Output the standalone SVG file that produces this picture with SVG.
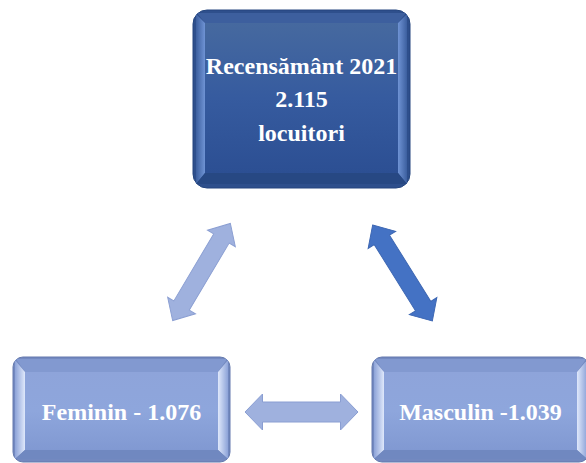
<svg xmlns="http://www.w3.org/2000/svg" width="586" height="463" viewBox="0 0 586 463">
<defs>
<style>
.lbl{font-family:"Liberation Serif","Times New Roman",serif;font-weight:bold;fill:#ffffff;font-size:24px;text-anchor:middle}
.ta{fill:#9fb1de;stroke:#8a9ed2;stroke-width:1}
.tb{fill:#4472c4;stroke:#3c66b2;stroke-width:1}
</style>
<linearGradient id="gTop" x1="0" y1="0" x2="0" y2="1">
<stop offset="0" stop-color="#46699f"/><stop offset="0.5" stop-color="#365b9f"/><stop offset="1" stop-color="#2c4f93"/>
</linearGradient>
<linearGradient id="gTopL" x1="0" y1="0" x2="1" y2="0">
<stop offset="0" stop-color="#3c5f9f"/><stop offset="1" stop-color="#6f93d4"/>
</linearGradient>
<linearGradient id="gTopR" x1="1" y1="0" x2="0" y2="0">
<stop offset="0" stop-color="#3c5f9f"/><stop offset="1" stop-color="#6f93d4"/>
</linearGradient>
<linearGradient id="gLow" x1="0" y1="0" x2="0" y2="1">
<stop offset="0" stop-color="#8ea4da"/><stop offset="0.5" stop-color="#8ea6dc"/><stop offset="1" stop-color="#8199d2"/>
</linearGradient>
<linearGradient id="gLowL" x1="0" y1="0" x2="1" y2="0">
<stop offset="0" stop-color="#8da3d8"/><stop offset="1" stop-color="#dfe8fb"/>
</linearGradient>
<linearGradient id="gLowR" x1="1" y1="0" x2="0" y2="0">
<stop offset="0" stop-color="#8da3d8"/><stop offset="1" stop-color="#dfe8fb"/>
</linearGradient>
<path id="arr" d="M -56.5 0 L -39 -18 L -39 -10 L 39 -10 L 39 -18 L 56.5 0 L 39 18 L 39 10 L -39 10 L -39 18 Z"/>
</defs>
<rect width="586" height="463" fill="#ffffff"/>

<g id="connectors">
<use href="#arr" class="ta" transform="translate(201.5 272) rotate(-59.3) scale(1 0.9)"/>
<use href="#arr" class="tb" transform="translate(402.5 273) rotate(58.1) scale(1 0.9)"/>
<use href="#arr" class="ta" transform="translate(301.5 412)"/>
</g>

<g id="node-total">
<rect x="193" y="10" width="217" height="178" rx="14" fill="#2e4f8c" stroke="#24457e" stroke-width="1"/>
<polygon points="197,13 406,13 398,23 205,23" fill="#3d5f9e"/>
<polygon points="196,14 205,23 205,173 196,184" fill="url(#gTopL)"/>
<polygon points="407,14 398,23 398,173 407,184" fill="url(#gTopR)"/>
<polygon points="196,184 205,173 398,173 407,184" fill="#274883"/>
<rect x="205" y="23" width="193" height="150" fill="url(#gTop)"/>
<text class="lbl" x="301.5" y="74">Recensământ 2021</text>
<text class="lbl" x="301.5" y="107">2.115</text>
<text class="lbl" x="301.5" y="141">locuitori</text>
</g>

<g id="node-feminin">
<rect x="13" y="357" width="217" height="105" rx="10" fill="#7389c0" stroke="#6479ad" stroke-width="1"/>
<polygon points="16,359 227,359 218,372 25,372" fill="#8299d0"/>
<polygon points="15,360 25,372 25,450 15,459" fill="url(#gLowL)"/>
<polygon points="228,360 218,372 218,450 228,459" fill="url(#gLowR)"/>
<polygon points="15,459 25,450 218,450 228,459" fill="#7088c0"/>
<rect x="25" y="372" width="193" height="78" fill="url(#gLow)"/>
<text class="lbl" x="121.5" y="420">Feminin - 1.076</text>
</g>

<g id="node-masculin">
<rect x="372" y="357" width="217" height="105" rx="10" fill="#7389c0" stroke="#6479ad" stroke-width="1"/>
<polygon points="375,359 586,359 577,372 384,372" fill="#8299d0"/>
<polygon points="374,360 384,372 384,450 374,459" fill="url(#gLowL)"/>
<polygon points="587,360 577,372 577,450 587,459" fill="url(#gLowR)"/>
<polygon points="374,459 384,450 577,450 587,459" fill="#7088c0"/>
<rect x="384" y="372" width="193" height="78" fill="url(#gLow)"/>
<text class="lbl" x="480.5" y="420">Masculin -1.039</text>
</g>
</svg>
